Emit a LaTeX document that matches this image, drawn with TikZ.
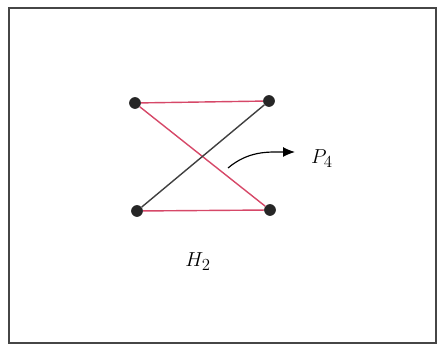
\documentclass[tikz,border=0pt]{standalone}
\usepackage{amsmath,amssymb}
\usetikzlibrary{arrows.meta}
\definecolor{edgered}{RGB}{214,72,104}
\definecolor{framegray}{RGB}{70,70,70}

\begin{document}
\begin{tikzpicture}[
      x=0.03cm, y=-0.03cm,
      font=\fontsize{19}{22}\selectfont,
      v/.style={circle, fill=black!85, inner sep=0pt, minimum size=10pt},
      r/.style={draw=edgered, line width=1.2pt},
      k/.style={draw=black!75, line width=1.2pt},
      a/.style={-{Latex[length=3.6mm,width=3mm]}, line width=1pt},
    ]
    \useasboundingbox (0,0) rectangle (438,345);
    \draw[framegray, line width=1.4pt] (9,8) rectangle (436,343);
    % vertices
    \node[v] (tl) at (135,103) {};
    \node[v] (tr) at (269,101) {};
    \node[v] (bl) at (137,211) {};
    \node[v] (br) at (270,210) {};
    % edges
    \draw[r] (tl) -- (tr);
    \draw[r] (tl) -- (br);
    \draw[r] (bl) -- (br);
    \draw[k] (bl) -- (tr);
    % labels
    \node (p4) at (322,159) {$P_4$};
    \coordinate (st) at (228,168);
    \coordinate (en) at (295,152);
    \draw[a] (st) to[out=40,in=180] (en);
    \node (h2) at (198,262) {$H_2$};
  \end{tikzpicture}
\end{document}
